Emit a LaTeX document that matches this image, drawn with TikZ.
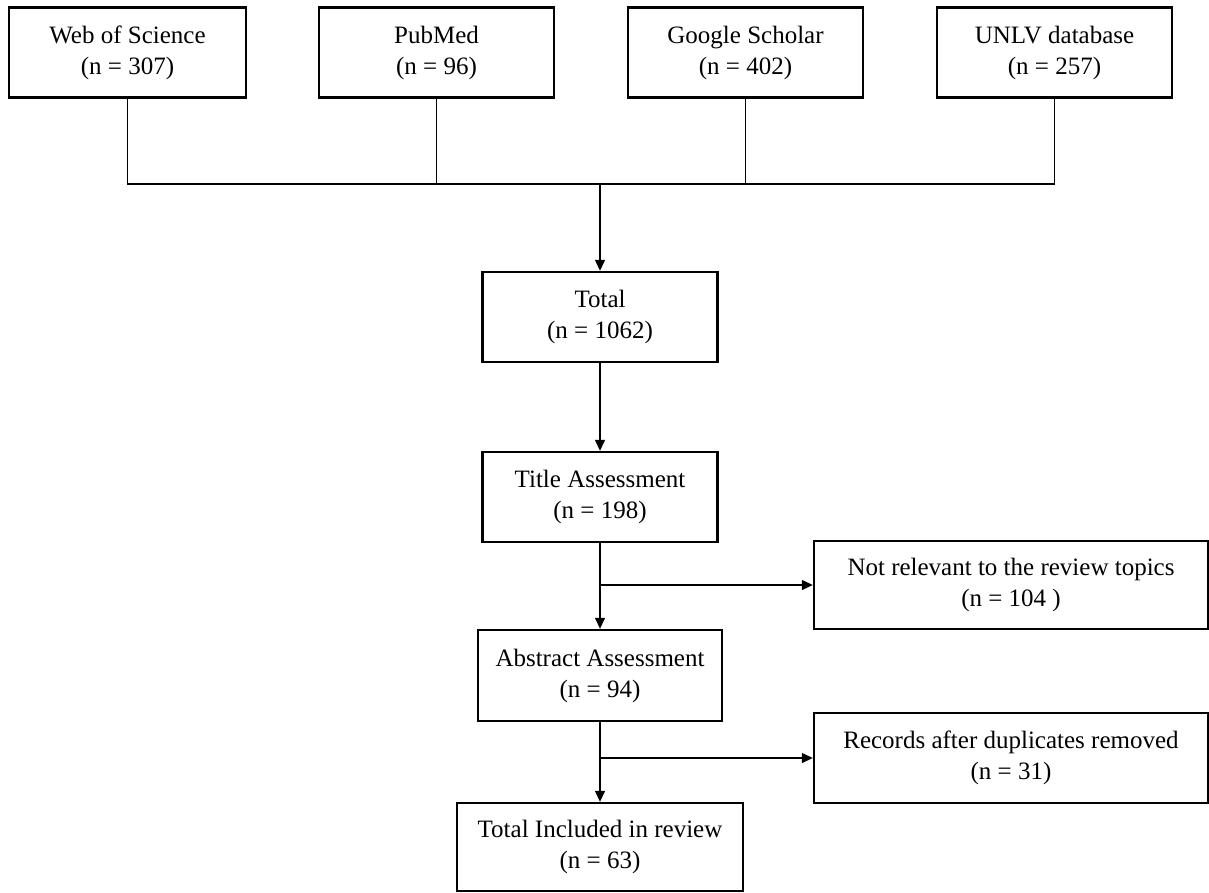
\documentclass[tikz,border=0pt]{standalone}
\usepackage{fontspec}
\setmainfont{Liberation Serif}
\usetikzlibrary{positioning,arrows.meta}

\begin{document}
\begin{tikzpicture}[x=1pt, y=1pt, node distance=309pt, on grid,
    box/.style={draw, line width=2.4pt, align=center, inner sep=0pt,
        minimum width=235pt, minimum height=90pt,
        font=\fontsize{25}{31}\selectfont},
    link/.style={line width=1.3pt},
    flow/.style={link, -{Triangle[length=11pt,width=10pt]}}]

    \useasboundingbox (0,0) rectangle (1209,-892);

    \node[box, minimum width=237pt] (wos) at (127.5,-52.5) {Web of Science\\(n = 307)};
    \node[box] (pm) [right=of wos] {PubMed\\(n = 96)};
    \node[box] (gs) [right=of pm] {Google Scholar\\(n = 402)};
    \node[box] (ul) [right=of gs] {UNLV database\\(n = 257)};

    \node[box] (tot) at (600,-317) {Total\\(n = 1062)};
    \node[box] (ta) [below=180pt of tot] {Title Assessment\\(n = 198)};
    \node[box, minimum width=244pt, minimum height=91pt] (aa) [below=178.5pt of ta] {Abstract Assessment\\(n = 94)};
    \node[box, minimum width=286pt, minimum height=88pt] (inc) [below=171.5pt of aa] {Total Included in review\\(n = 63)};

    \node[box, minimum width=394pt, minimum height=88pt] (nr) at (1011,-585) {Not relevant to the review topics\\(n = 104 )};
    \node[box, minimum width=394pt] (dup) at (1011,-758) {Records after duplicates removed\\(n = 31)};

    \coordinate (bus) at (600,-184);
    \coordinate (s1) at (ta.south |- nr.west);
    \coordinate (s2) at (aa.south |- dup.west);

    \draw[link] (wos.south) |- (bus) -| (ul.south);
    \draw[link] (pm.south) -- (pm.south |- bus);
    \draw[link] (gs.south) -- (gs.south |- bus);

    \path[flow]
        (bus) edge (tot)
        (tot) edge (ta)
        (ta) edge (aa)
        (aa) edge (inc)
        (s1) edge (nr.west)
        (s2) edge (dup.west);

\end{tikzpicture}
\end{document}
